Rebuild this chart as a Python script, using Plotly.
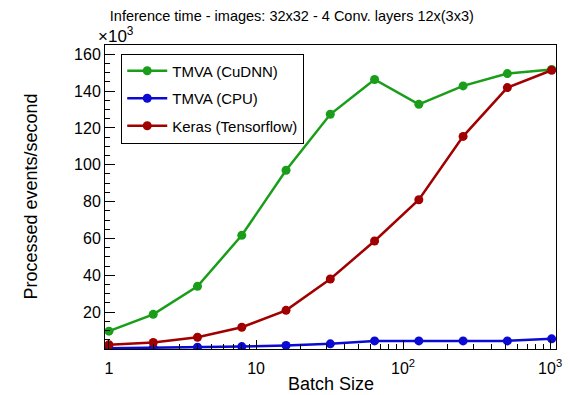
import plotly.graph_objects as go

batch_size = [1, 2, 4, 8, 16, 32, 64, 128, 256, 512, 1024]
tmva_cudnn = [9.7, 18.8, 34.0, 61.7, 97.0, 127.4, 146.3, 132.8, 142.8, 149.5, 151.7]
tmva_cpu = [0.4, 0.6, 1.0, 1.3, 1.9, 2.8, 4.4, 4.4, 4.4, 4.4, 5.5]
keras_tf = [2.3, 3.5, 6.4, 11.8, 21.0, 38.0, 58.6, 81.0, 115.4, 141.9, 151.3]

series_names = ["TMVA (CuDNN)", "TMVA (CPU)", "Keras (Tensorflow)"]
series_values = [tmva_cudnn, tmva_cpu, keras_tf]
series_colors = ["#1a9e1a", "#0a0ad2", "#a00000"]

x_tickvals = [1, 10, 100, 1000]
x_ticktext = ["1", "10", "10<sup>2</sup>", "10<sup>3</sup>"]
y_tickvals = [20, 40, 60, 80, 100, 120, 140, 160]

FONT = "Liberation Sans, Arial, sans-serif"

fig = go.Figure()
for i, (name, vals, col) in enumerate(zip(series_names, series_values, series_colors)):
    fig.add_trace(go.Scatter(
        x=batch_size, y=vals, name=name, mode="lines+markers",
        legendgroup=f"g{i}",
        line=dict(color=col, width=2.5),
        marker=dict(color=col, size=9),
    ))

fig.update_layout(
    width=570, height=395,
    margin=dict(l=105, r=8, t=45, b=46),
    paper_bgcolor="white", plot_bgcolor="white",
    font=dict(family=FONT, color="black", size=15),
    showlegend=True,
    legend=dict(
        x=0.036, y=0.972, xanchor="left", yanchor="top",
        bgcolor="white", bordercolor="black", borderwidth=1,
        font=dict(size=15, family=FONT), itemwidth=40,
        tracegroupgap=5,
    ),
    title=dict(
        text="Inference time - images: 32x32 - 4 Conv. layers 12x(3x3)",
        x=0.512, xref="container", xanchor="center",
        y=0.96, yref="container", yanchor="middle",
        font=dict(size=14.5, family=FONT),
    ),
    xaxis=dict(
        type="log", range=[-0.027, 3.04],
        tickvals=x_tickvals, ticktext=x_ticktext,
        ticks="inside", ticklen=9, tickwidth=1, tickcolor="black",
        showline=True, linecolor="black", linewidth=1, mirror=True,
        showgrid=False, zeroline=False,
        ticklabelstandoff=5,
        tickfont=dict(size=16, family=FONT),
        minor=dict(ticks="inside", ticklen=5, tickcolor="black",
                   dtick="D1", showgrid=False),
    ),
    yaxis=dict(
        range=[0, 165],
        tickvals=y_tickvals,
        ticks="inside", ticklen=10, tickwidth=1, tickcolor="black",
        showline=True, linecolor="black", linewidth=1, mirror=True,
        showgrid=False, zeroline=False,
        tickfont=dict(size=16, family=FONT),
        minor=dict(ticks="inside", ticklen=5, tickcolor="black",
                   dtick=5, showgrid=False),
    ),
    annotations=[
        dict(text="Batch Size", xref="paper", yref="paper",
             x=0.5, y=-0.114, xanchor="center", yanchor="middle",
             showarrow=False, font=dict(size=18, family=FONT)),
        dict(text="Processed events/second", xref="paper", yref="paper",
             x=-0.165, y=0.5, textangle=-90, xanchor="center", yanchor="middle",
             showarrow=False, font=dict(size=18, family=FONT)),
        dict(text="\u00d710<sup>3</sup>", xref="paper", yref="paper",
             x=-0.02, y=0.99, xanchor="left", yanchor="bottom",
             showarrow=False, font=dict(size=17, family=FONT)),
    ],
)

fig.write_html("out.html")
